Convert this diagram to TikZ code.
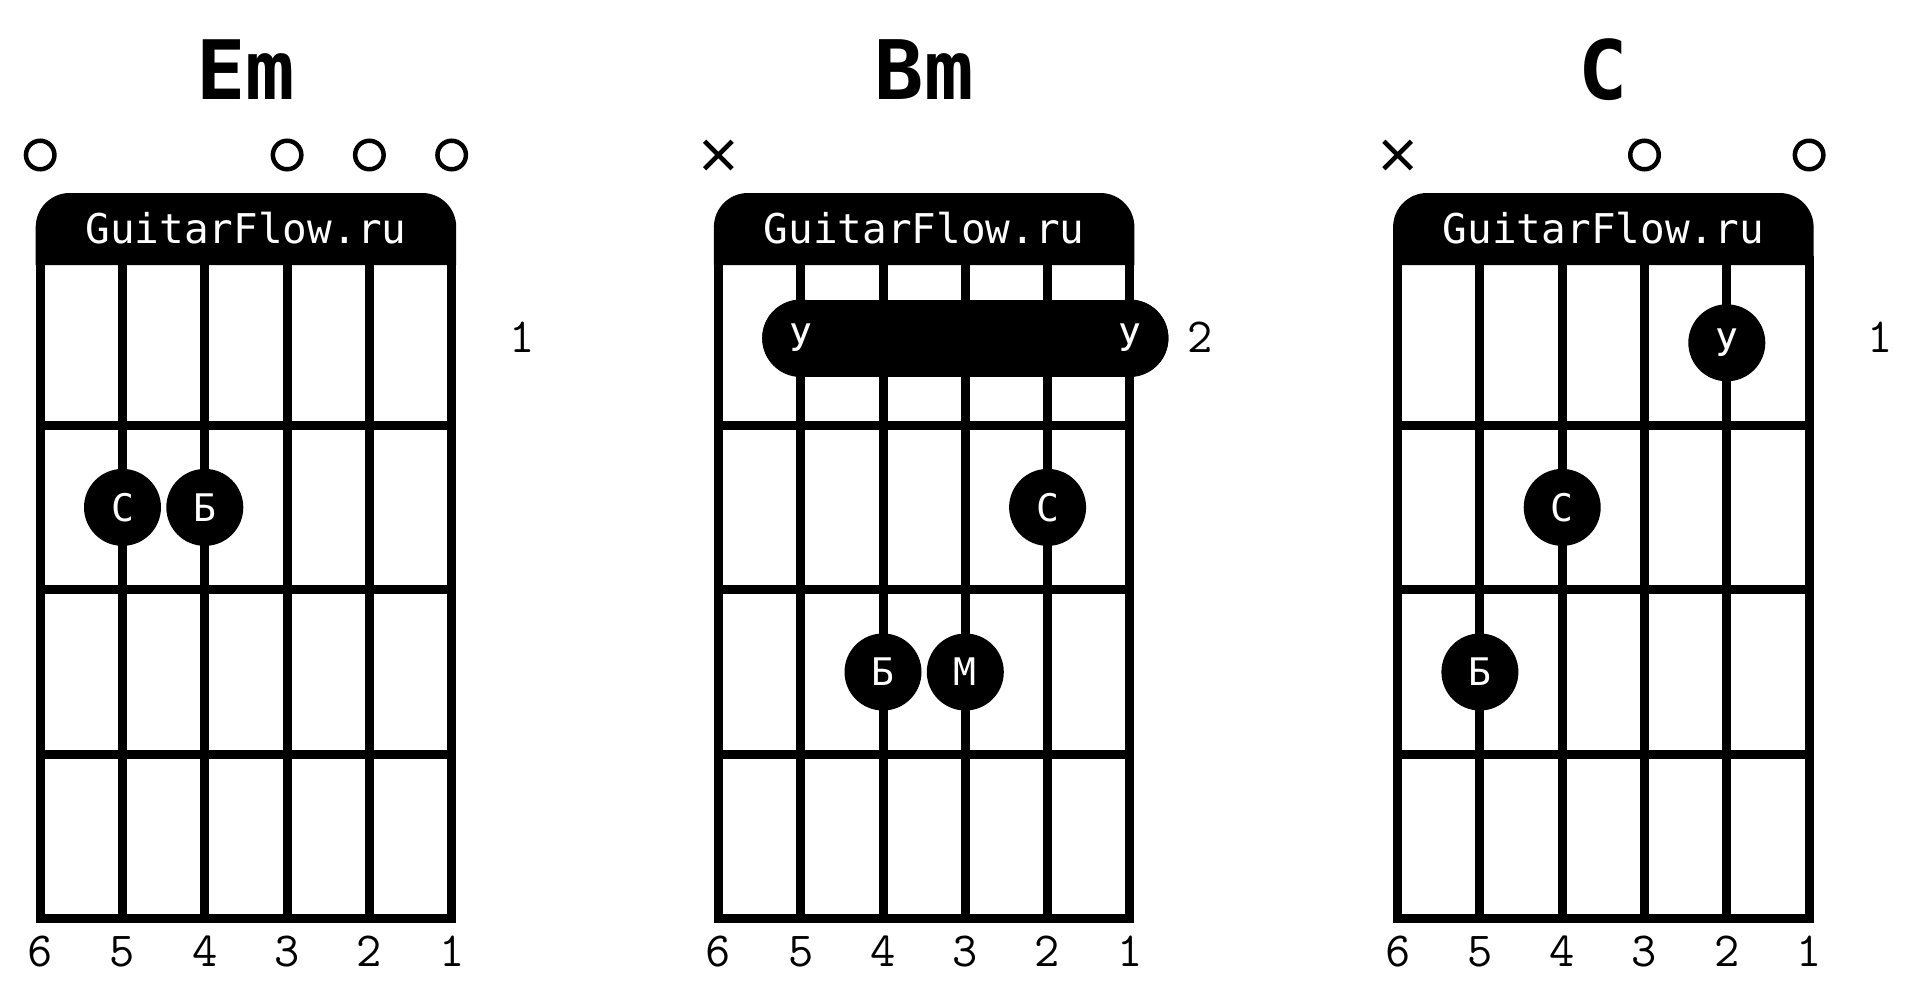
\documentclass[tikz,border=0pt]{standalone}
\usepackage{fontspec}
\newfontfamily\djm{DejaVu Sans Mono}
\usetikzlibrary{shapes.misc}
\tikzset{
  gridline/.style={line width=9pt},
  headtext/.style={text=white, font=\djm\fontsize{41}{45}\selectfont, anchor=base, inner sep=0pt},
  chordtitle/.style={font=\djm\bfseries\fontsize{82}{90}\selectfont, inner sep=0pt},
  finger/.style={circle, fill=black, inner sep=0pt, minimum size=77pt, text=white, font=\djm\fontsize{38}{40}\selectfont},
  openstr/.style={circle, draw, line width=4.5pt, minimum size=28.5pt, inner sep=0pt},
  mutestr/.style={cross out, draw, line width=4.5pt, minimum size=23pt, inner sep=0pt},
  strnum/.style={font=\ttfamily\fontsize{49}{54}\selectfont, anchor=base, inner sep=0pt},
  fretnum/.style={strnum},
  barre/.style={line width=77pt, line cap=round},
}
\newcommand\gfframe[1]{%
  \fill (-4.5,265) -- (-4.5,227) arc[start angle=180,end angle=90,radius=34pt]
        -- (382,193) arc[start angle=90,end angle=0,radius=34pt] -- (416,265) -- cycle;
  \node[headtext] (#1-head) at (205.75,243) {GuitarFlow.ru};
  \draw[gridline] (0,260) rectangle (411.5,918.9);
  \foreach \i in {1,...,4} \draw[gridline] (\i*82.3,260) -- (\i*82.3,918.9);
  \foreach \j in {1,2,3} \draw[gridline] (0,260.5+\j*164.6) -- (411.5,260.5+\j*164.6);
  \foreach \n [count=\k from 0] in {6,5,4,3,2,1}
    \node[strnum] (#1-n\n) at (\k*82.3,966.7) {\n};
}
\begin{document}
\begin{tikzpicture}[x=1pt,y=-1pt]
\useasboundingbox (0,0) rectangle (1920,1006);

% ---------- Em ----------
\begin{scope}[xshift=40.2pt]
  \gfframe{em}
  \node[chordtitle] (em-title) at (205.75,70) {Em};
  \node[openstr] (em-o6) at (0,155) {};
  \node[openstr] (em-o3) at (246.9,155) {};
  \node[openstr] (em-o2) at (329.2,155) {};
  \node[openstr] (em-o1) at (411.5,155) {};
  \node[finger] (em-f5) at (82.3,507.4) {С};
  \node[finger] (em-f4) at (164.6,507.4) {Б};
  \node[fretnum] (em-fret) at (482,352) {1};
\end{scope}

% ---------- Bm ----------
\begin{scope}[xshift=718.4pt]
  \gfframe{bm}
  \node[chordtitle] (bm-title) at (205.75,70) {Bm};
  \node[mutestr] (bm-x6) at (0,155) {};
  \coordinate (bm-b5) at (82.3,338);
  \coordinate (bm-b1) at (411.5,338);
  \draw[barre] (bm-b5) -- (bm-b1);
  \node[finger] (bm-y5) at (bm-b5) {У};
  \node[finger] (bm-y1) at (bm-b1) {У};
  \node[finger] (bm-f2) at (329.2,507.4) {С};
  \node[finger] (bm-f4) at (164.6,672) {Б};
  \node[finger] (bm-f3) at (246.9,672) {М};
  \node[fretnum] (bm-fret) at (482,352) {2};
\end{scope}

% ---------- C ----------
\begin{scope}[xshift=1397.6pt]
  \gfframe{c}
  \node[chordtitle] (c-title) at (205.75,70) {C};
  \node[mutestr] (c-x6) at (0,155) {};
  \node[openstr] (c-o3) at (246.9,155) {};
  \node[openstr] (c-o1) at (411.5,155) {};
  \node[finger] (c-f2) at (329.2,342.8) {У};
  \node[finger] (c-f4) at (164.6,507.4) {С};
  \node[finger] (c-f5) at (82.3,672) {Б};
  \node[fretnum] (c-fret) at (482,352) {1};
\end{scope}
\end{tikzpicture}
\end{document}
